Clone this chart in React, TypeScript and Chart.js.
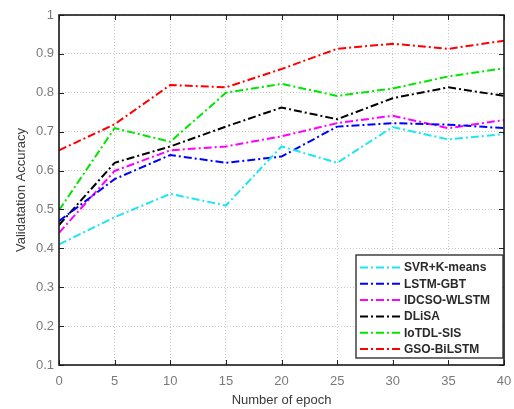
import React, { useEffect, useRef } from "react";
import { Chart, registerables } from "chart.js";

Chart.register(...registerables);

const epochs = [0, 5, 10, 15, 20, 25, 30, 35, 40];
const seriesNames = ["SVR+K-means", "LSTM-GBT", "IDCSO-WLSTM", "DLiSA", "IoTDL-SIS", "GSO-BiLSTM"];
const svrKmeans = [0.41, 0.48, 0.54, 0.51, 0.662, 0.62, 0.712, 0.68, 0.694];
const lstmGbt = [0.47, 0.578, 0.64, 0.62, 0.636, 0.713, 0.722, 0.718, 0.709];
const idcsoWlstm = [0.44, 0.599, 0.652, 0.662, 0.688, 0.722, 0.741, 0.709, 0.73];
const dlisa = [0.46, 0.62, 0.662, 0.713, 0.762, 0.732, 0.786, 0.814, 0.792];
const iotdlSis = [0.498, 0.709, 0.674, 0.8, 0.823, 0.792, 0.811, 0.842, 0.863];
const gsoBilstm = [0.652, 0.719, 0.82, 0.814, 0.861, 0.913, 0.926, 0.913, 0.934];
const seriesValues = [svrKmeans, lstmGbt, idcsoWlstm, dlisa, iotdlSis, gsoBilstm];
const seriesColors = ["#1ee6f0", "#0000ff", "#ff00ff", "#000000", "#00e600", "#ff0000"];

const FONT = "'Liberation Sans', Arial, sans-serif";
const DASH = [8, 3, 2, 3];

const framePlugin = {
  id: "frameAndLegend",
  afterDraw(chart: any) {
    const ctx = chart.ctx;
    const a = chart.chartArea;
    const xs = chart.scales.x;
    const ys = chart.scales.y;
    ctx.save();
    // inward tick marks
    ctx.strokeStyle = "#222";
    ctx.lineWidth = 1;
    ctx.setLineDash([]);
    const tl = 5;
    xs.ticks.forEach((t: any) => {
      const px = Math.round(xs.getPixelForValue(t.value)) + 0.5;
      ctx.beginPath();
      ctx.moveTo(px, a.bottom);
      ctx.lineTo(px, a.bottom - tl);
      ctx.moveTo(px, a.top);
      ctx.lineTo(px, a.top + tl);
      ctx.stroke();
    });
    ys.ticks.forEach((t: any) => {
      const py = Math.round(ys.getPixelForValue(t.value)) + 0.5;
      ctx.beginPath();
      ctx.moveTo(a.left, py);
      ctx.lineTo(a.left + tl, py);
      ctx.moveTo(a.right, py);
      ctx.lineTo(a.right - tl, py);
      ctx.stroke();
    });
    // frame
    ctx.strokeStyle = "#1a1a1a";
    ctx.lineWidth = 1.6;
    ctx.strokeRect(a.left, a.top, a.right - a.left, a.bottom - a.top);

    // legend inside bottom-right
    const n = chart.data.datasets.length;
    const rowH = 16.3;
    const boxW = 147;
    const boxH = 103;
    const bx = a.right - boxW - 1;
    const by = a.bottom - boxH - 7;
    ctx.fillStyle = "#ffffff";
    ctx.fillRect(bx, by, boxW, boxH);
    ctx.strokeStyle = "#333";
    ctx.lineWidth = 1.4;
    ctx.strokeRect(bx, by, boxW, boxH);
    ctx.font = "bold 12px " + FONT;
    ctx.textBaseline = "middle";
    ctx.textAlign = "left";
    for (let i = 0; i < n; i++) {
      const ds = chart.data.datasets[i];
      const yy = by + 12.5 + i * rowH;
      ctx.strokeStyle = ds.borderColor;
      ctx.lineWidth = 2;
      ctx.setLineDash(DASH);
      ctx.beginPath();
      ctx.moveTo(bx + 4, yy);
      ctx.lineTo(bx + 46, yy);
      ctx.stroke();
      ctx.setLineDash([]);
      ctx.fillStyle = "#2a2a2a";
      ctx.fillText(ds.label, bx + 48, yy + 0.5);
    }
    ctx.restore();
  },
};

export default function App() {
  const ref = useRef<HTMLCanvasElement>(null);
  useEffect(() => {
    document.body.style.margin = "0";
    const canvas = ref.current!;
    const chart = new Chart(canvas, {
      type: "line",
      data: {
        datasets: seriesNames.map((name, i) => ({
          label: name,
          data: epochs.map((e, j) => ({ x: e, y: seriesValues[i][j] })),
          borderColor: seriesColors[i],
          backgroundColor: seriesColors[i],
          borderWidth: 2,
          borderDash: DASH,
          pointRadius: 0,
          tension: 0,
          fill: false,
        })),
      },
      options: {
        animation: false,
        responsive: false,
        maintainAspectRatio: false,
        layout: { padding: { left: 0, top: 15, right: 10, bottom: 0 } },
        plugins: { legend: { display: false }, tooltip: { enabled: false } },
        scales: {
          x: {
            type: "linear",
            min: 0,
            max: 40,
            ticks: { stepSize: 5, color: "#7a7a7a", font: { family: FONT, size: 13 }, padding: 9 },
            grid: { color: "#c8c8c8", lineWidth: 1, drawTicks: false },
            border: { display: false, dash: [1, 2] },
            title: {
              display: true,
              text: "Number of epoch",
              color: "#3a3a3a",
              font: { family: FONT, size: 13 },
              padding: { top: 0, bottom: 1 },
            },
            afterFit: (s: any) => {
              s.height = 44;
              s.paddingLeft = 0;
              s.paddingRight = 0;
            },
          },
          y: {
            min: 0.1,
            max: 1,
            ticks: {
              stepSize: 0.1,
              color: "#7a7a7a",
              font: { family: FONT, size: 13 },
              padding: 5,
              callback: (v: any) => String(Number(Number(v).toFixed(1))),
            },
            grid: { color: "#c8c8c8", lineWidth: 1, drawTicks: false },
            border: { display: false, dash: [1, 2] },
            title: {
              display: true,
              text: "Validatation Accuracy",
              color: "#3a3a3a",
              font: { family: FONT, size: 13 },
              padding: { top: 14, bottom: 0 },
            },
            afterFit: (s: any) => {
              s.width = 59;
              s.paddingTop = 0;
              s.paddingBottom = 0;
            },
          },
        },
      },
      plugins: [framePlugin],
    });
    return () => chart.destroy();
  }, []);
  return <canvas ref={ref} width={514} height={409} style={{ display: "block" }} />;
}
